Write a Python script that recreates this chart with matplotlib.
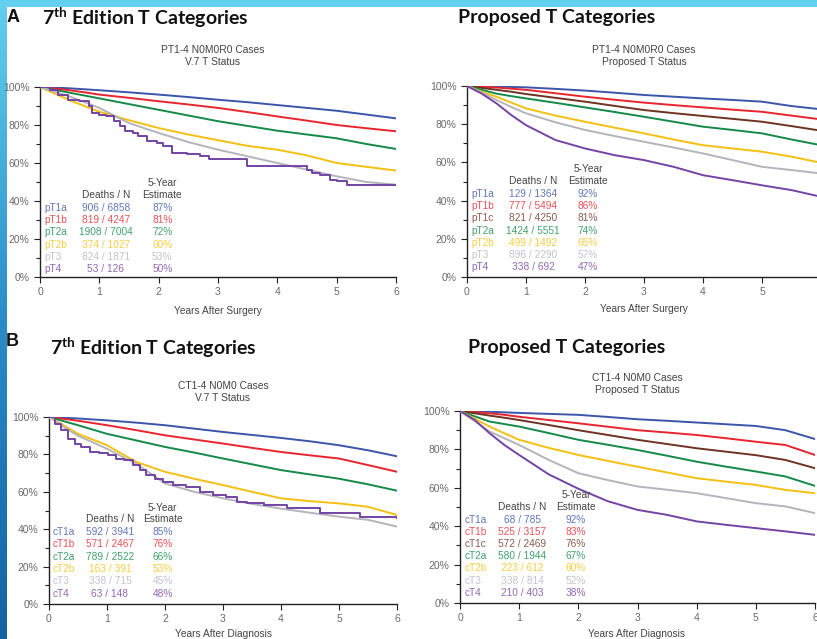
import numpy as np
import matplotlib
matplotlib.use("Agg")
import matplotlib.pyplot as plt
from matplotlib.colors import LinearSegmentedColormap, to_rgb
from matplotlib.patches import Rectangle

plt.rcParams["font.family"] = ["Liberation Sans", "DejaVu Sans"]
plt.rcParams["mathtext.fontset"] = "custom"
plt.rcParams["mathtext.rm"] = "Lato"
plt.rcParams["mathtext.bf"] = "Lato:bold"

# ---- data (survival in %) ----
T = [0, 0.25, 0.5, 0.75, 1, 1.5, 2, 2.5, 3, 3.5, 4, 4.5, 5, 5.5, 6]

# A, 7th edition, pathologic T
a7_labels = ["pT1a", "pT1b", "pT2a", "pT2b", "pT3", "pT4"]
a7_deaths = ["906 / 6858", "819 / 4247", "1908 / 7004", "374 / 1027", "824 / 1871", "53 / 126"]
a7_est = ["87%", "81%", "72%", "60%", "53%", "50%"]
a7_pT1a = [100, 99.7, 99.3, 98.8, 98.3, 97.2, 96, 94.7, 93.3, 92, 90.5, 89, 87.5, 85.5, 83.5]
a7_pT1b = [100, 99.2, 98.3, 97.2, 96, 94.3, 92.5, 90.8, 89, 86.8, 84.5, 82.3, 80, 78.3, 76.7]
a7_pT2a = [100, 98.5, 97, 95.5, 94, 91, 88, 85, 82, 79.5, 77, 75, 73, 70, 67.4]
a7_pT2b = [100, 96.5, 93, 90, 87, 82.5, 78.4, 75, 72, 69, 67, 64, 60, 58, 56]
a7_pT3 = [100, 97.5, 95, 92, 89, 81, 75.8, 71, 67, 63.5, 60, 56.5, 53, 50, 48.6]
a7_pT4_t = [0, 0.17, 0.3, 0.48, 0.65, 0.82, 0.87, 1.0, 1.12, 1.24, 1.35, 1.43, 1.57, 1.66,
            1.8, 1.97, 2.08, 2.22, 2.47, 2.7, 2.84, 3.49, 4.1, 4.5, 4.58, 4.72, 4.89, 5.0, 5.17, 6.0]
a7_pT4 = [100, 98.6, 96, 93.3, 92.5, 89.8, 86.3, 85.4, 84.6, 82, 79.3, 76.7, 75.8, 74,
          71.4, 70.5, 68.8, 65.3, 65, 63.5, 62, 58.6, 58.2, 56.5, 54.7, 53.8, 51.2, 50.4, 48.6, 48.6]

# A, proposed pathologic T
ap_labels = ["pT1a", "pT1b", "pT1c", "pT2a", "pT2b", "pT3", "pT4"]
ap_deaths = ["129 / 1364", "777 / 5494", "821 / 4250", "1424 / 5551", "499 / 1492", "896 / 2290", "338 / 692"]
ap_est = ["92%", "86%", "81%", "74%", "65%", "57%", "47%"]
ap_pT1a = [100, 99.9, 99.7, 99.5, 99.3, 98.5, 97.6, 96.5, 95.3, 94.4, 93.5, 92.7, 91.8, 89.5, 87.8]
ap_pT1b = [100, 99.6, 99.2, 98.6, 98, 96.2, 94.4, 92.8, 91.3, 90, 88.8, 87.6, 86.5, 84.5, 82.5]
ap_pT1c = [100, 99, 98, 97, 95.8, 93.8, 91.8, 89.6, 87.4, 85.8, 84.3, 82.8, 81.3, 79, 76.6]
ap_pT2a = [100, 98, 96, 94.7, 93.5, 91.2, 88.8, 86.4, 83.9, 81.3, 78.7, 77, 75.2, 72, 69]
ap_pT2b = [100, 97, 94.4, 91.3, 88.3, 84.5, 81.3, 78.2, 75.2, 72, 69, 67.3, 65.6, 63, 59.8]
ap_pT3 = [100, 96.5, 92.7, 89, 85.7, 81, 77, 73.8, 70.8, 67.8, 64.7, 61.2, 57.7, 56, 54.2]
ap_pT4 = [100, 96, 90.9, 84.8, 79.5, 71.7, 67.3, 63.8, 61.2, 57.7, 53.3, 50.7, 48, 45.5, 42]

# B, 7th edition, clinical T
b7_labels = ["cT1a", "cT1b", "cT2a", "cT2b", "cT3", "cT4"]
b7_deaths = ["592 / 3941", "571 / 2467", "789 / 2522", "163 / 391", "338 / 715", "63 / 148"]
b7_est = ["85%", "76%", "66%", "53%", "45%", "48%"]
b7_cT1a = [100, 99.6, 99.2, 98.7, 98.2, 97, 95.6, 93.8, 92, 90.4, 88.8, 87, 84.9, 82.2, 79]
b7_cT1b = [100, 99, 98, 96.8, 95.6, 93, 90.2, 88, 85.8, 83.5, 81.3, 79.5, 77.8, 74.3, 70.7]
b7_cT2a = [100, 97.8, 95.6, 93.3, 91, 87.5, 84, 81, 77.8, 74.7, 71.6, 69.3, 67, 64, 60.6]
b7_cT2b = [100, 95.6, 91, 88, 84.9, 76, 70.7, 67, 63.6, 60, 56.5, 55, 53.8, 52, 47.6]
b7_cT3 = [100, 94.7, 90, 86.5, 83, 75, 64.5, 60, 56.5, 53.5, 51, 48.8, 46.7, 45, 41.4]
b7_cT4_t = [0, 0.1, 0.21, 0.33, 0.44, 0.56, 0.7, 0.87, 1.02, 1.16, 1.3, 1.45, 1.57, 1.68,
            1.82, 1.97, 2.14, 2.37, 2.6, 2.83, 3.06, 3.24, 3.41, 3.7, 4.1, 4.67, 5.37, 6.0]
b7_cT4 = [100, 96.4, 92.9, 88.5, 85.8, 84, 81.3, 80.5, 79.6, 77.8, 76.9, 74.2, 71.6, 68.9,
          67.1, 65.4, 63.6, 62.7, 60, 58.3, 57.4, 54.7, 53.8, 52.9, 51.2, 48.8, 46.7, 45.8]

# B, proposed clinical T
bp_labels = ["cT1a", "cT1b", "cT1c", "cT2a", "cT2b", "cT3", "cT4"]
bp_deaths = ["68 / 785", "525 / 3157", "572 / 2469", "580 / 1944", "223 / 612", "338 / 814", "210 / 403"]
bp_est = ["92%", "83%", "76%", "67%", "60%", "52%", "38%"]
bp_cT1a = [100, 99.8, 99.6, 99.3, 99, 98.5, 98, 96.9, 95.7, 94.9, 94, 93.1, 92.2, 90, 85.4]
bp_cT1b = [100, 99.4, 98.8, 98, 97, 95.3, 93.6, 91.8, 90, 88.8, 87.5, 85.8, 84, 82.3, 77.1]
bp_cT1c = [100, 98.8, 97.6, 96.5, 95.3, 92.7, 90, 87.5, 85, 82.8, 80.6, 78.8, 77, 74.5, 70.2]
bp_cT2a = [100, 97.2, 94.5, 93.2, 91.9, 88.5, 85, 82.4, 79.7, 76.7, 73.6, 71, 68.5, 65.9, 61]
bp_cT2b = [100, 95.9, 91.9, 88.4, 85, 80.8, 77.1, 74, 71, 68, 65, 63.2, 61.5, 58.9, 57.2]
bp_cT3 = [100, 94.6, 89.3, 85.8, 82.3, 74.5, 67.6, 64, 60.7, 59, 57.2, 54.6, 52, 50.3, 46.8]
bp_cT4 = [100, 95.3, 88.4, 82.3, 77.1, 67, 59.5, 53, 48.5, 45.9, 42.5, 40.7, 39, 37.3, 35.5]

BLUE, RED, BROWN, GREEN = "#3b55aa", "#e8252e", "#6e3322", "#138a48"
YELLOW, GREY, PURPLE = "#f5c012", "#b4b4bc", "#7444a4"

W, H = 817, 639
fig = plt.figure(figsize=(W / 100, H / 100), dpi=100)
fig.patch.set_facecolor("white")


def fx(px):
    return px / W


def fy(py):
    return 1 - py / H


def soften(c, k=0.2):
    r, g, b = to_rgb(c)
    return (r + (1 - r) * k, g + (1 - g) * k, b + (1 - b) * k)


# slide decoration: cyan top bar + blue gradient strip on the left
fig.patches.append(Rectangle((0, fy(7)), 1, 7 / H, transform=fig.transFigure,
                             facecolor="#62d0ee", edgecolor="none", zorder=0))
strip = fig.add_axes([0, 0, fx(7), 1])
cmap = LinearSegmentedColormap.from_list("strip", ["#62d0ee", "#2a8cc6", "#1462a2"])
strip.imshow(np.linspace(0, 1, 256)[:, None], aspect="auto", cmap=cmap)
strip.axis("off")


def km_panel(box, series, labels, deaths, est, first_row, row_gap, dcol):
    ax = fig.add_axes([fx(box[0]), fy(box[3]), fx(box[2] - box[0]), (box[3] - box[1]) / H])
    for t, s, c, step in series:
        ax.plot(t, s, color=c, linewidth=1.4,
                drawstyle="steps-post" if step else "default", zorder=3)
    ax.set_xlim(0, 6)
    ax.set_ylim(0, 100)
    ax.set_xticks(range(7))
    ax.set_yticks(range(0, 101, 20))
    ax.set_yticklabels([f"{v}%" for v in range(0, 101, 20)])
    ax.set_yticks(range(10, 100, 20), minor=True)
    ax.tick_params(axis="both", labelsize=7.5, colors="#222222", labelcolor="#6a6a6a",
                   length=4, width=0.8)
    ax.tick_params(axis="y", which="minor", length=3, width=0.8, colors="#222222")
    ax.tick_params(axis="x", pad=3)
    for side in ("top", "right"):
        ax.spines[side].set_visible(False)
    for side in ("left", "bottom"):
        ax.spines[side].set_linewidth(1.0)
        ax.spines[side].set_color("#222222")
    ax.set_facecolor("none")

    colors = [soften(s[2]) for s in series]
    for i, (lab, d, e, c) in enumerate(zip(labels, deaths, est, colors)):
        y = first_row - i * row_gap
        ax.text(0.07, y, lab, color=c, fontsize=7.3, va="center", ha="left")
        ax.text(dcol[0], y, d, color=c, fontsize=7.3, va="center", ha="center")
        ax.text(dcol[1], y, e, color=c, fontsize=7.3, va="center", ha="center")
    ax.text(dcol[0], first_row + 7, "Deaths / N", color="#444444", fontsize=7.3,
            va="center", ha="center")
    ax.text(dcol[1], first_row + 7, "Estimate", color="#444444", fontsize=7.3,
            va="center", ha="center")
    ax.text(dcol[1], first_row + 13, "5-Year", color="#444444", fontsize=7.3,
            va="center", ha="center")
    return ax


# Panel A left
km_panel((40, 87, 396, 277),
         [(T, a7_pT1a, BLUE, False), (T, a7_pT1b, RED, False), (T, a7_pT2a, GREEN, False),
          (T, a7_pT2b, YELLOW, False), (T, a7_pT3, GREY, False), (a7_pT4_t, a7_pT4, PURPLE, True)],
         a7_labels, a7_deaths, a7_est, 36.3, 6.4, (1.11, 2.06))
# Panel A right
km_panel((467, 86, 821, 277),
         [(T, ap_pT1a, BLUE, False), (T, ap_pT1b, RED, False), (T, ap_pT1c, BROWN, False),
          (T, ap_pT2a, GREEN, False), (T, ap_pT2b, YELLOW, False), (T, ap_pT3, GREY, False),
          (T, ap_pT4, PURPLE, False)],
         ap_labels, ap_deaths, ap_est, 43.5, 6.4, (1.12, 2.05))
# Panel B left
km_panel((49, 417, 397, 604),
         [(T, b7_cT1a, BLUE, False), (T, b7_cT1b, RED, False), (T, b7_cT2a, GREEN, False),
          (T, b7_cT2b, YELLOW, False), (T, b7_cT3, GREY, False), (b7_cT4_t, b7_cT4, PURPLE, True)],
         b7_labels, b7_deaths, b7_est, 38.5, 6.6, (1.05, 1.96))
# Panel B right
km_panel((460, 411, 815, 603),
         [(T, bp_cT1a, BLUE, False), (T, bp_cT1b, RED, False), (T, bp_cT1c, BROWN, False),
          (T, bp_cT2a, GREEN, False), (T, bp_cT2b, YELLOW, False), (T, bp_cT3, GREY, False),
          (T, bp_cT4, PURPLE, False)],
         bp_labels, bp_deaths, bp_est, 43.2, 6.3, (1.05, 1.96))

# headings
big = dict(fontsize=14, fontweight="bold", family="Lato", color="#111111", va="center")
fig.text(fx(7), fy(18), "A", fontsize=13, fontweight="bold", color="#111111", va="center")
fig.text(fx(42), fy(18), r"7$^{\mathbf{th}}$ Edition T Categories", **big)
fig.text(fx(458), fy(18), "Proposed T Categories", **big)
fig.text(fx(6), fy(341), "B", fontsize=13, fontweight="bold", color="#111111", va="center")
fig.text(fx(50), fy(348), r"7$^{\mathbf{th}}$ Edition T Categories", **big)
fig.text(fx(468), fy(348), "Proposed T Categories", **big)

sub = dict(fontsize=7.4, color="#444444", ha="center", va="center", linespacing=1.3)
fig.text(fx(213), fy(56), "PT1-4 N0M0R0 Cases\nV.7 T Status", **sub)
fig.text(fx(644), fy(56), "PT1-4 N0M0R0 Cases\nProposed T Status", **sub)
fig.text(fx(223), fy(392), "CT1-4 N0M0 Cases\nV.7 T Status", **sub)
fig.text(fx(637), fy(384), "CT1-4 N0M0 Cases\nProposed T Status", **sub)

xl = dict(fontsize=7.3, color="#444444", ha="center", va="center")
fig.text(fx(218), fy(311), "Years After Surgery", **xl)
fig.text(fx(644), fy(309), "Years After Surgery", **xl)
fig.text(fx(223), fy(634), "Years After Diagnosis", **xl)
fig.text(fx(637), fy(634), "Years After Diagnosis", **xl)

fig.savefig("out.png", dpi=100)
